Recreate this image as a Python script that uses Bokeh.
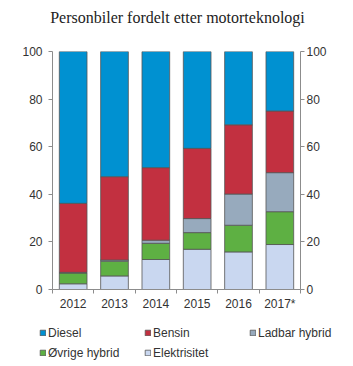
from bokeh.plotting import figure
from bokeh.models import Range1d, LinearAxis, FixedTicker, Legend, LegendItem, ColumnDataSource, Label
from bokeh.embed import file_html
from bokeh.resources import INLINE

title_text = "Personbiler fordelt etter motorteknologi"
years = ["2012", "2013", "2014", "2015", "2016", "2017*"]
elektrisitet = [2.4, 5.7, 12.6, 16.9, 15.8, 18.9]
ovrige_hybrid = [4.5, 6.2, 6.8, 7.0, 11.2, 13.8]
ladbar_hybrid = [0.3, 0.5, 1.3, 5.9, 13.1, 16.4]
bensin = [29.0, 35.0, 30.5, 29.5, 29.1, 25.9]
diesel = [63.8, 52.6, 48.8, 40.7, 30.8, 25.0]
y_ticks = [0, 20, 40, 60, 80, 100]

stack_names = ["Elektrisitet", "Øvrige hybrid", "Ladbar hybrid", "Bensin", "Diesel"]
colors = ["#c9d7f0", "#5eb043", "#97aabd", "#c23040", "#0091d1"]
outline = "#555555"
xpos = [i + 0.5 for i in range(len(years))]
src = ColumnDataSource(dict(x=xpos, **dict(zip(stack_names,
                                               [elektrisitet, ovrige_hybrid, ladbar_hybrid, bensin, diesel]))))

# title strip
p0 = figure(width=353, height=34, output_backend="svg", toolbar_location=None,
            x_range=Range1d(0, 1), y_range=Range1d(0, 1),
            x_axis_location=None, y_axis_location=None,
            min_border_left=0, min_border_right=0, min_border_top=0, min_border_bottom=0)
p0.outline_line_color = None
p0.xgrid.visible = False
p0.ygrid.visible = False
p0.add_layout(Label(x=177, y=17, x_units="screen", y_units="screen", text=title_text,
                    text_align="center", text_baseline="middle",
                    text_font="Liberation Serif", text_font_size="16px",
                    text_color="#222222"))

p = figure(width=353, height=279, output_backend="svg", toolbar_location=None,
           x_range=Range1d(0, len(years)), y_range=Range1d(0, 100),
           min_border_left=52, min_border_right=53, min_border_bottom=20, min_border_top=17)

p.vbar_stack(stack_names, x="x", width=0.67, source=src, color=colors,
             line_color=outline, line_width=0.8)

p.outline_line_color = None
p.xgrid.visible = False
p.ygrid.visible = False

axis_col = "#8c8c8c"
lab_col = "#333333"

p.yaxis.ticker = FixedTicker(ticks=y_ticks)
ra = LinearAxis(ticker=FixedTicker(ticks=y_ticks))
p.add_layout(ra, "right")
for ax in [p.yaxis[0], ra]:
    ax.axis_line_color = axis_col
    ax.major_tick_line_color = axis_col
    ax.major_tick_in = 0
    ax.major_tick_out = 4
    ax.minor_tick_line_color = None
    ax.major_label_text_font = "Liberation Sans"
    ax.major_label_text_font_size = "12px"
    ax.major_label_text_color = lab_col
p.yaxis[0].major_label_standoff = 6
ra.major_label_standoff = 2

xa = p.xaxis[0]
xa.ticker = FixedTicker(ticks=xpos, minor_ticks=list(range(len(years) + 1)))
xa.major_label_overrides = {x: y for x, y in zip(xpos, years)}
xa.major_tick_line_color = None
xa.major_tick_out = 0
xa.major_tick_in = 0
xa.minor_tick_line_color = axis_col
xa.minor_tick_in = 0
xa.minor_tick_out = 4
xa.axis_line_color = axis_col
xa.major_label_text_font = "Liberation Sans"
xa.major_label_text_font_size = "12px"
xa.major_label_text_color = lab_col
xa.major_label_standoff = 3

# legend panel (swatch renderers sit outside its visible range)
p2 = figure(width=353, height=53, output_backend="svg", toolbar_location=None,
            x_range=Range1d(0, 1), y_range=Range1d(0, 1),
            x_axis_location=None, y_axis_location=None,
            min_border_left=0, min_border_right=0, min_border_top=0, min_border_bottom=0)
p2.outline_line_color = None
p2.xgrid.visible = False
p2.ygrid.visible = False
leg_rend = {}
for name, c in zip(stack_names, colors):
    leg_rend[name] = p2.vbar(x=[-10], top=[-10], bottom=[-11], width=0.5,
                             fill_color=c, line_color=outline, line_width=0.8)

order = ["Diesel", "Bensin", "Ladbar hybrid", "Øvrige hybrid", "Elektrisitet"]
items = [LegendItem(label=n, renderers=[leg_rend[n]]) for n in order]
leg = Legend(items=items, location=(39, 5), ncols=3, orientation="horizontal",
             glyph_width=7, glyph_height=7, label_standoff=2, label_width=93,
             label_height=17, spacing=3, padding=0, margin=0,
             border_line_color=None, background_fill_alpha=0,
             label_text_font="Liberation Sans", label_text_font_size="12px",
             label_text_color=lab_col)
p2.add_layout(leg, "center")

open("out.html", "w").write(file_html([p0, p, p2], INLINE))
